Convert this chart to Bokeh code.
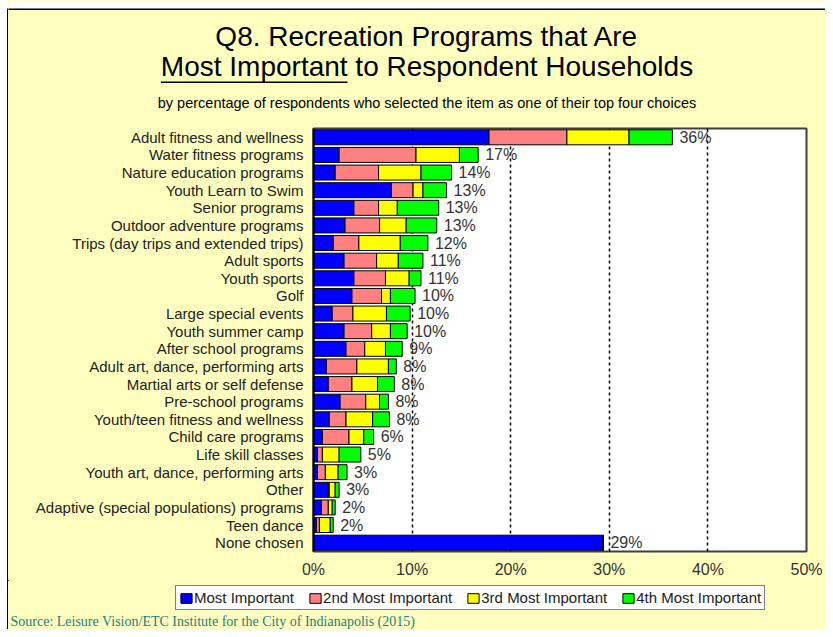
from bokeh.plotting import figure
from bokeh.layouts import row, column
from bokeh.models import (ColumnDataSource, FactorRange, FixedTicker, PrintfTickFormatter,
                          Legend, LegendItem, Range1d)
from bokeh.core.properties import value
from bokeh.embed import file_html
from bokeh.resources import INLINE

categories = [
    "Adult fitness and wellness", "Water fitness programs", "Nature education programs",
    "Youth Learn to Swim", "Senior programs", "Outdoor adventure programs",
    "Trips (day trips and extended trips)", "Adult sports", "Youth sports", "Golf",
    "Large special events", "Youth summer camp", "After school programs",
    "Adult art, dance, performing arts", "Martial arts or self defense",
    "Pre-school programs", "Youth/teen fitness and wellness", "Child care programs",
    "Life skill classes", "Youth art, dance, performing arts", "Other",
    "Adaptive (special populations) programs", "Teen dance", "None chosen",
]
most_important = [17.8, 2.6, 2.2, 7.9, 4.1, 3.2, 2.0, 3.1, 4.1, 3.9, 1.9, 3.1, 3.3,
                  1.3, 1.5, 2.7, 1.6, 0.9, 0.4, 0.4, 1.5, 0.8, 0.3, 29.4]
second_important = [7.9, 7.8, 4.4, 2.2, 2.5, 3.5, 2.6, 3.3, 3.2, 3.0, 2.1, 2.8, 1.9,
                    3.1, 2.4, 2.6, 1.7, 2.7, 0.5, 0.8, 0.1, 0.7, 0.3, 0.0]
third_important = [6.3, 4.4, 4.3, 1.0, 1.9, 2.7, 4.2, 2.2, 2.4, 0.9, 3.4, 1.9, 2.1,
                   3.2, 2.6, 1.4, 2.7, 1.5, 1.7, 1.3, 0.6, 0.4, 1.1, 0.0]
fourth_important = [4.4, 1.9, 3.1, 2.4, 4.2, 3.1, 2.8, 2.5, 1.2, 2.5, 2.4, 1.7, 1.7,
                    0.8, 1.7, 0.9, 1.7, 1.0, 2.2, 0.9, 0.4, 0.3, 0.3, 0.0]
total_labels = ["36%", "17%", "14%", "13%", "13%", "13%", "12%", "11%", "11%", "10%",
                "10%", "10%", "9%", "8%", "8%", "8%", "8%", "6%", "5%", "3%", "3%",
                "2%", "2%", "29%"]
series_names = ["Most Important", "2nd Most Important", "3rd Most Important", "4th Most Important"]
x_ticks = [0, 10, 20, 30, 40, 50]
title_line1 = "Q8. Recreation Programs that Are"
title_line2 = "Most Important to Respondent Households"
subtitle = "by percentage of respondents who selected the item as one of their top four choices"
source_note = "Source:  Leisure Vision/ETC Institute for the City of Indianapolis (2015)"

FONT = "Liberation Sans"
YELLOW = "#FFFFC0"
colors = ["#0000FF", "#FF8080", "#FFFF00", "#00FF00"]
keys = ["s1", "s2", "s3", "s4"]

W, H = 825, 629          # whole page content
STRIP = 8                # left white strip with the outer border line
IW = W - STRIP


def blank(width, height, x0, y0):
    f = figure(width=width, height=height, output_backend="svg", toolbar_location=None,
               x_range=Range1d(x0, x0 + width), y_range=Range1d(y0 + height, y0),
               x_axis_location=None, y_axis_location=None, frame_align=False,
               min_border_left=0, min_border_right=0, min_border_top=0, min_border_bottom=0)
    f.grid.visible = False
    f.outline_line_color = None
    f.background_fill_color = YELLOW
    f.border_fill_color = YELLOW
    return f


# ---- left strip (outer border of the pasted chart) ----
strip = blank(STRIP, H, 0, 0)
strip.background_fill_color = "white"
strip.border_fill_color = "white"
strip.quad(left=[STRIP - 1.5], right=[STRIP], top=[8], bottom=[H], fill_color="black",
           line_color=None)

# ---- header with titles ----
header = blank(IW, 120, STRIP, 0)
header.quad(left=[STRIP], right=[W], top=[0], bottom=[8], fill_color="white", line_color=None)
header.quad(left=[STRIP - 1.5], right=[W], top=[8], bottom=[9.5], fill_color="black", line_color=None)
header.text(x=[426.5], y=[35.5], text=[title_line1], text_align="center", text_baseline="middle",
            text_font=value(FONT), text_font_size="28px", text_color="black")
header.text(x=[426.5], y=[66], text=[title_line2], text_align="center", text_baseline="middle",
            text_font=value(FONT), text_font_size="28px", text_color="black")
header.quad(left=[160.5], right=[347], top=[81], bottom=[82.5], fill_color="black", line_color=None)
header.text(x=[426.5], y=[102], text=[subtitle], text_align="center", text_baseline="middle",
            text_font=value(FONT), text_font_size="14.5px", text_color="black")

# ---- main chart ----
totals = [a + b + c + d for a, b, c, d in zip(most_important, second_important,
                                              third_important, fourth_important)]
src = ColumnDataSource(dict(cat=categories, s1=most_important, s2=second_important,
                            s3=third_important, s4=fourth_important,
                            total=totals, label=total_labels))

p = figure(width=IW, height=460, output_backend="svg", toolbar_location=None,
           x_range=(0, 50), y_range=FactorRange(factors=categories[::-1], range_padding=0),
           min_border_left=313 - STRIP, min_border_right=W - 806, min_border_top=8,
           min_border_bottom=29, frame_align=False)
p.background_fill_color = "white"
p.border_fill_color = YELLOW
p.outline_line_color = "#404040"
p.outline_line_width = 2

rends = p.hbar_stack(keys, y="cat", height=0.85, color=colors, line_color="black",
                     line_width=1, source=src)

p.text(x="total", y="cat", text="label", source=src, x_offset=7, text_baseline="middle",
       text_font=value(FONT), text_font_size="16px", text_color="#333333")

p.xaxis.ticker = FixedTicker(ticks=x_ticks)
p.xaxis.formatter = PrintfTickFormatter(format="%d%%")
p.xaxis.major_label_text_font = FONT
p.xaxis.major_label_text_font_size = "16px"
p.xaxis.major_label_text_color = "#333333"
p.xaxis.major_tick_line_color = None
p.xaxis.major_tick_out = 0
p.xaxis.major_tick_in = 0
p.xaxis.minor_tick_line_color = None
p.xaxis.axis_line_color = None
p.xaxis.major_label_standoff = 9

p.yaxis.major_label_text_font = FONT
p.yaxis.major_label_text_font_size = "15px"
p.yaxis.major_label_text_color = "#222222"
p.yaxis.major_tick_line_color = None
p.yaxis.major_tick_out = 0
p.yaxis.major_tick_in = 0
p.yaxis.axis_line_color = "black"
p.yaxis.axis_line_width = 2
p.yaxis.major_label_standoff = 10

p.ygrid.grid_line_color = None
p.xgrid.ticker = FixedTicker(ticks=x_ticks[1:-1])
p.xgrid.grid_line_color = "black"
p.xgrid.grid_line_dash = "3 3"
p.xgrid.grid_line_width = 1.5

# ---- footer with legend and source ----
footer = blank(IW, H - 580, STRIP, 580)
# legend swatches: renderers with one bar placed far outside the visible range
legend_rends = [footer.hbar(y=[-1000], right=[0], left=[-10], height=1, fill_color=c,
                            line_color="black") for c in colors]
items = [LegendItem(label=n, renderers=[r], index=0) for n, r in zip(series_names, legend_rends)]
legend = Legend(items=items, orientation="horizontal", location=(175 - STRIP, H - 610),
                label_text_font=FONT, label_text_font_size="15px", label_text_color="#222222",
                glyph_width=14, glyph_height=12, label_standoff=1, spacing=14,
                padding=3, margin=0, border_line_color="black", border_line_width=1.5,
                background_fill_color="white", background_fill_alpha=1,
                label_height=14)
footer.add_layout(legend, "center")
footer.text(x=[10], y=[620.5], text=[source_note], text_align="left", text_baseline="middle",
            text_font=value("Liberation Serif"), text_font_size="14px", text_color="#1A7F7F")

inner = column(header, p, footer, spacing=0, styles={"background-color": YELLOW})
layout = row(strip, inner, spacing=0)
open("out.html", "w").write(file_html(layout, INLINE))
